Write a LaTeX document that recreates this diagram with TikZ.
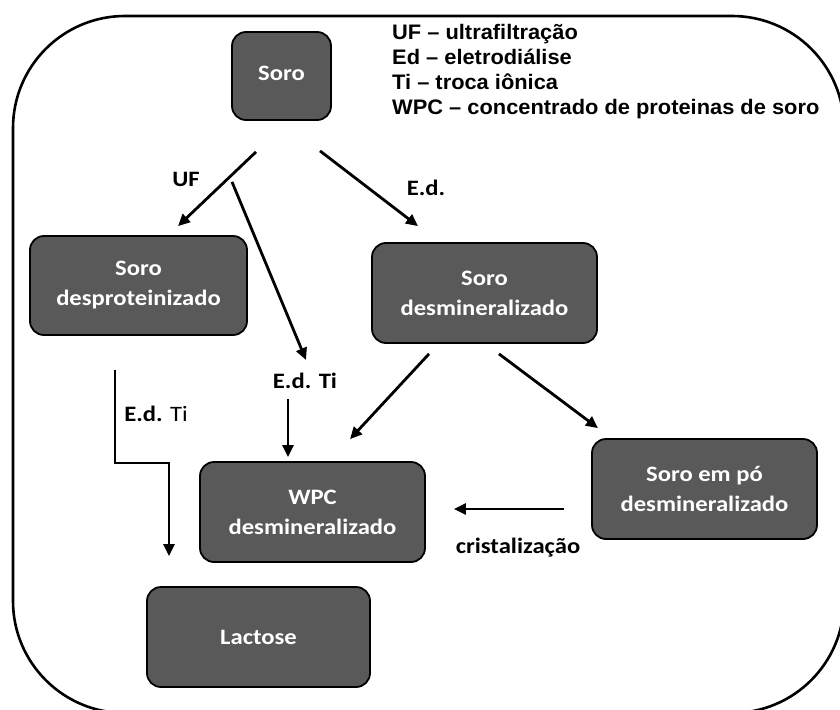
\documentclass[tikz,border=0pt]{standalone}
\usepackage{fontspec}
\usetikzlibrary{arrows.meta,calc}
\newfontfamily\cfont[FakeStretch=1.12]{Carlito}
\newfontfamily\afont[FakeStretch=1.04]{Liberation Sans}
\definecolor{boxgray}{HTML}{595959}
\begin{document}
\begin{tikzpicture}[x=1pt,y=-1pt,
  box/.style={draw=black, line width=1.8pt, fill=boxgray, rounded corners=14pt, text=white,
    font=\cfont\bfseries\fontsize{22}{30}\selectfont, align=center, inner sep=0pt},
  arr/.style={line width=2.8pt, -{Triangle[length=12pt,width=11pt]}},
  lbl/.style={font=\cfont\bfseries\fontsize{22}{30}\selectfont, inner sep=0pt},
  leg/.style={font=\afont\bfseries\fontsize{21}{25}\selectfont, anchor=base west, inner sep=0pt}]
\useasboundingbox (0,0) rectangle (840,709);
\clip (0,0) rectangle (840,709);
\draw[line width=2.6pt, rounded corners=112pt] (13,16) rectangle (844,713);

% boxes
\node[box, minimum width=99pt, minimum height=88pt] (soro) at (281.5,76) {\raisebox{5pt}{Soro}};
\node[box, minimum width=217pt, minimum height=99pt] (desprot) at (138.5,285.5) {Soro\\desproteinizado};
\node[box, minimum width=225pt, minimum height=100pt] (desmin) at (484.5,293) {Soro\\desmineralizado};
\node[box, minimum width=225pt, minimum height=100pt] (wpc) at (312.5,512) {WPC\\desmineralizado};
\node[box, minimum width=223pt, minimum height=100pt] (lactose) at (258.5,637) {Lactose};
\node[box, minimum width=225pt, minimum height=100pt] (po) at (704.5,489) {Soro em pó\\desmineralizado};

% legend
\node[leg] (leg1) at (392,39.5) {UF – ultrafiltração};
\node[leg] (leg2) at (392,64.5) {Ed – eletrodiálise};
\node[leg] (leg3) at (392,89.5) {Ti – troca iônica};
\node[leg] (leg4) at (392,114.5) {WPC – concentrado de proteinas de soro};

% labels
\node[lbl] (uf) at (186,179) {UF};
\node[lbl] (ed) at (426,188) {E.d.};
\node[lbl] (edti) at (305,381) {E.d. Ti};
\node[lbl] (edtil) at (156,414) {E.d. {\mdseries Ti}};
\node[lbl] (crist) at (518,548) {cristalização};

% arrows
\draw[arr] ($(soro.south)+(-25.5,31)$) -- ($(desprot.north)+(39.5,-9)$);
\draw[arr] ($(soro.south)+(-49.5,61)$) -- ($(edti.north)+(1,-13)$);
\draw[arr] ($(edti.south)+(-17,10)$) -- ($(wpc.north)+(-24.5,-4)$);
\draw[arr] ($(soro.south)+(38.5,30)$) -- ($(desmin.north)+(-66.5,-16)$);
\draw[arr] ($(desmin.south)+(-55.5,10)$) -- ($(wpc.north)+(37.5,-22)$);
\draw[arr] ($(desmin.south)+(14.5,10)$) -- ($(po.north)+(-106.5,-10)$);
\draw[arr] ($(po.west)+(-27,20)$) -- ($(wpc.east)+(28,-3)$);
\draw[arr] ($(desprot.south)+(-23.5,34)$) -- ++(0,93) -| ($(lactose.north)+(-89.5,-30)$);
\end{tikzpicture}
\end{document}
